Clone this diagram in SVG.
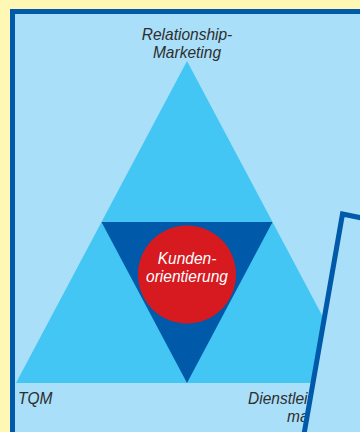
<svg xmlns="http://www.w3.org/2000/svg" width="360" height="432" viewBox="0 0 360 432">
<style>
.lbl{font-family:"Liberation Sans",Arial,sans-serif;font-style:italic;font-size:16px;fill:#2e2e2e}
.wlbl{font-family:"Liberation Sans",Arial,sans-serif;font-style:italic;font-size:16px;fill:#ffffff}
</style>
<rect x="0" y="0" width="360" height="432" fill="#FFF8B4"/>
<g id="frame">
<rect x="12.5" y="11.5" width="420" height="460" fill="#A9DFF9" stroke="#0059A9" stroke-width="5"/>
</g>
<g id="triangle">
<polygon points="187,61 358,383 16,383" fill="#43C6F3"/>
<polygon points="101.5,222 272.5,222 187,383" fill="#0059A9"/>
</g>
<g id="center">
<circle cx="187" cy="274.5" r="49" fill="#D71920"/>
<text class="wlbl" text-anchor="middle" transform="translate(187,264) scale(0.97,1)">Kunden-</text>
<text class="wlbl" text-anchor="middle" transform="translate(187,282) scale(0.97,1)">orientierung</text>
</g>
<g id="relationship">
<text class="lbl" text-anchor="middle" transform="translate(187,40) scale(0.97,1)">Relationship-</text>
<text class="lbl" text-anchor="middle" transform="translate(187,58) scale(0.97,1)">Marketing</text>
</g>
<g id="tqm">
<text class="lbl" transform="translate(18,404) scale(0.97,1)">TQM</text>
</g>
<g id="dienst">
<text class="lbl" transform="translate(248,404) scale(0.97,1)">Dienstlei</text>
<text class="lbl" transform="translate(287,422) scale(0.97,1)">ma</text>
</g>
<g id="panel">
<polygon points="342.5,214 460,238 420,500 296,480" fill="#A9DFF9" stroke="#0059A9" stroke-width="5" stroke-linejoin="miter"/>
</g>
</svg>
